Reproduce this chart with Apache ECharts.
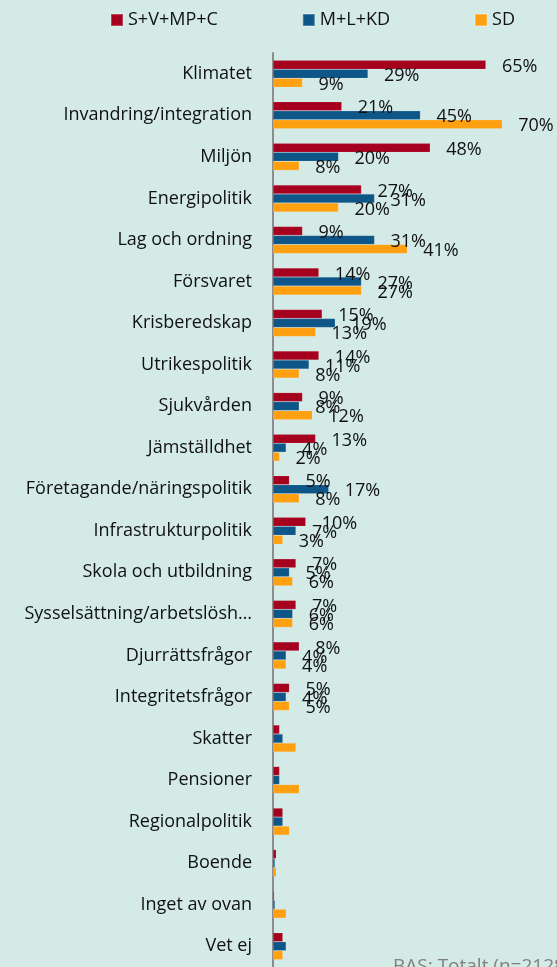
<!DOCTYPE html>
<html>
<head>
<meta charset="utf-8">
<script src="https://cdn.jsdelivr.net/npm/echarts@6/dist/echarts.min.js"></script>
<style>
  html, body { margin: 0; padding: 0; background: #d3eae6; }
  #chart { width: 557px; height: 967px; }
</style>
</head>
<body>
<div id="chart"></div>
<script>
const categories = [
  "Klimatet", "Invandring/integration", "Miljön", "Energipolitik", "Lag och ordning",
  "Försvaret", "Krisberedskap", "Utrikespolitik", "Sjukvården", "Jämställdhet",
  "Företagande/näringspolitik", "Infrastrukturpolitik", "Skola och utbildning",
  "Sysselsättning/arbetslösh…", "Djurrättsfrågor", "Integritetsfrågor", "Skatter",
  "Pensioner", "Regionalpolitik", "Boende", "Inget av ovan", "Vet ej"
];
const seriesNames = ["S+V+MP+C", "M+L+KD", "SD"];
const redBlock = [65, 21, 48, 27, 9, 14, 15, 14, 9, 13, 5, 10, 7, 7, 8, 5, 2, 2, 3, 1, 0.4, 3];
const blueBlock = [29, 45, 20, 31, 31, 27, 19, 11, 8, 4, 17, 7, 5, 6, 4, 4, 3, 2, 3, 0.6, 0.6, 4];
const sdValues = [9, 70, 8, 20, 41, 27, 13, 8, 12, 2, 8, 3, 6, 6, 4, 5, 7, 8, 5, 1, 4, 3];
// only the first 16 rows carry value labels in the original
const labeledRows = 16;

const colors = ["#a6001f", "#0e5687", "#ffa010"];
const font = "'Open Sans', sans-serif";

const chart = echarts.init(document.getElementById("chart"));

function makeSeries(name, data, color) {
  return {
    name: name,
    type: "bar",
    data: data,
    barGap: "0%",
    barCategoryGap: "35%",
    itemStyle: { color: color, borderColor: "rgba(255,255,255,0.25)", borderWidth: 0.5 },
    label: {
      show: true,
      position: "right",
      distance: 16,
      offset: [0, 2],
      fontFamily: font,
      fontSize: 18,
      color: "#111",
      formatter: p => (p.dataIndex < labeledRows ? p.value + "%" : "")
    }
  };
}

chart.setOption({
  backgroundColor: "#d3eae6",
  animation: false,
  legend: {
    data: seriesNames,
    left: 110,
    top: 11,
    padding: 0,
    icon: "rect",
    itemWidth: 12,
    itemHeight: 12,
    itemGap: 84,
    textStyle: { fontFamily: font, fontSize: 18, color: "#111" }
  },
  grid: { left: 273, top: 53, width: 262, height: 915 },
  xAxis: {
    type: "value",
    min: 0,
    max: 80,
    show: false
  },
  yAxis: {
    type: "category",
    data: categories,
    inverse: true,
    axisLine: { lineStyle: { color: "#8c8c8c", width: 2 } },
    axisTick: { length: 6, lineStyle: { color: "#8c8c8c", width: 2 } },
    axisLabel: { margin: 21, fontFamily: font, fontSize: 18, color: "#111" }
  },
  graphic: [{
    type: "text",
    left: 393,
    top: 957,
    style: { text: "BAS: Totalt (n=2128)", fill: "#808080", font: "19px " + font }
  }],
  series: [
    makeSeries(seriesNames[0], redBlock, colors[0]),
    makeSeries(seriesNames[1], blueBlock, colors[1]),
    makeSeries(seriesNames[2], sdValues, colors[2])
  ]
});
</script>
</body>
</html>
